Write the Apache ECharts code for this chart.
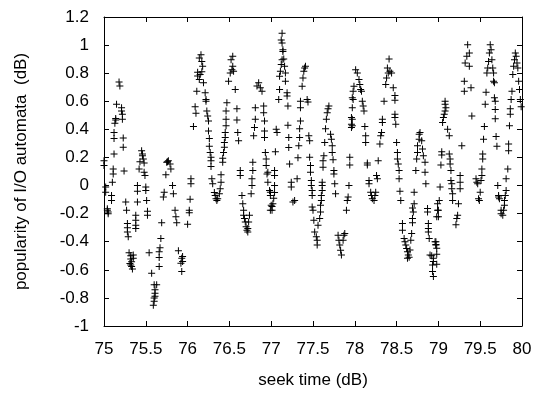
<!DOCTYPE html>
<html>
<head>
<meta charset="utf-8">
<script src="https://cdn.jsdelivr.net/npm/echarts@6/dist/echarts.min.js"></script>
<style>html,body{margin:0;padding:0;background:#fff}#c{width:538px;height:394px}</style>
</head>
<body>
<div id="c"></div>
<script>
var xTitle = 'seek time (dB)';
var yTitle = 'popularity of I/O automata  (dB)';
var xTicks = [75, 75.5, 76, 76.5, 77, 77.5, 78, 78.5, 79, 79.5, 80];
var yTicks = [-1, -0.8, -0.6, -0.4, -0.2, 0, 0.2, 0.4, 0.6, 0.8, 1, 1.2];

var seg75 = [
[75.00,0.177],[75.00,0.142],[75.02,-0.011],[75.02,-0.047],[75.04,-0.165],[75.04,-0.176],[75.05,-0.188],[75.05,-0.200],
[75.09,-0.070],[75.09,-0.106],[75.10,0.024],[75.11,0.118],[75.11,0.083],[75.12,0.224],[75.12,0.378],[75.12,0.335],
[75.13,0.444],[75.14,0.477],[75.14,0.467],[75.15,0.578],[75.18,0.738],[75.19,0.708],[75.21,0.554],[75.21,0.531],
[75.22,0.507],[75.22,0.472],[75.23,0.338],[75.23,0.272],[75.24,0.104],[75.26,-0.117],[75.27,-0.176],
[75.28,-0.271],[75.28,-0.301],[75.28,-0.330],[75.29,-0.365],[75.30,-0.478],[75.32,-0.499],[75.32,-0.523],
[75.33,-0.542],[75.33,-0.577],[75.34,-0.594],[75.35,-0.494],[75.35,-0.518],[75.31,-0.555],[75.32,-0.565],
[75.38,-0.212],[75.38,-0.247],[75.38,-0.282],[75.38,-0.306],[75.40,0.000],[75.40,-0.040],[75.40,-0.117],
[75.42,0.118],[75.45,0.248],[75.46,0.224],[75.46,0.213],[75.47,0.189],[75.43,0.170],[75.48,0.161],
[75.48,0.095],[75.49,0.071],[75.50,-0.011],[75.50,-0.035],[75.51,-0.106],[75.52,-0.183],[75.52,-0.212],
[75.54,-0.478],[75.57,-0.624],[75.60,-0.707],[75.61,-0.742],[75.61,-0.766],[75.61,-0.789],[75.60,-0.824],
[75.59,-0.853],[75.63,-0.707],[75.60,-0.800],[75.69,-0.264],[75.68,-0.377],[75.67,-0.443],[75.66,-0.471],
[75.66,-0.513],[75.66,-0.577],[75.71,-0.082],[75.72,-0.047],[75.74,0.076],[75.75,0.166],[75.77,0.177],
[75.79,0.154],[75.80,0.118],[75.76,0.170],[75.82,0.000],[75.83,-0.058],[75.85,-0.176],[75.86,-0.223],
[75.87,-0.264],[75.89,-0.464],[75.92,-0.553],[75.93,-0.518],[75.94,-0.506],[75.93,-0.612],[75.94,-0.540]
];
var seg76 = [
[76.04,0.048],[76.04,0.012],[76.03,-0.098],[76.02,-0.176],[76.02,-0.193],[76.00,-0.275],
[76.07,0.420],[76.09,0.561],[76.10,0.514],[76.11,0.672],[76.12,0.780],[76.14,0.755],[76.12,0.807],
[76.14,0.908],[76.16,0.931],[76.17,0.884],[76.18,0.849],[76.15,0.790],[76.17,0.810],[76.19,0.731],
[76.21,0.660],[76.22,0.613],[76.22,0.600],[76.23,0.530],[76.24,0.495],[76.25,0.460],[76.25,0.389],
[76.26,0.335],[76.26,0.279],[76.27,0.236],[76.28,0.201],[76.28,0.177],[76.28,0.135],[76.29,0.048],
[76.30,0.012],[76.32,-0.050],[76.33,-0.070],[76.34,-0.094],[76.35,-0.106],[76.36,-0.094],[76.38,-0.058],
[76.39,-0.023],[76.40,0.024],[76.40,0.076],[76.42,0.166],[76.42,0.194],[76.43,0.236],[76.44,0.272],
[76.44,0.307],[76.45,0.342],[76.45,0.378],[76.46,0.425],[76.46,0.472],[76.46,0.531],[76.47,0.590],
[76.49,0.743],[76.51,0.802],[76.53,0.825],[76.54,0.849],[76.55,0.814],[76.52,0.896],[76.54,0.920],
[76.57,0.684],[76.59,0.547],[76.59,0.467],[76.60,0.378],[76.61,0.319],[76.63,0.107],[76.63,0.071],
[76.65,-0.070],[76.66,-0.129],[76.67,-0.176],[76.67,-0.212],[76.68,-0.235],[76.69,-0.259],[76.70,-0.294],
[76.71,-0.318],[76.72,-0.330],[76.72,-0.306],[76.73,-0.259],[76.74,-0.212],[76.76,-0.058],[76.77,0.000],
[76.77,0.048],[76.78,0.107],[76.78,0.166],[76.79,0.354],[76.80,0.413],[76.81,0.472],[76.81,0.554],
[76.83,0.708],[76.85,0.731],[76.87,0.696],[76.89,0.672],[76.91,0.566],[76.91,0.519],[76.92,0.460],
[76.92,0.389],[76.92,0.342],[76.93,0.236],[76.94,0.189],[76.94,0.142],[76.95,0.083],[76.96,0.024],
[76.98,-0.035],[76.99,-0.176]
];
var seg77 = [
[76.96,0.095],[76.99,-0.047],[76.99,-0.070],[77.00,-0.141],[77.01,-0.176],[77.04,0.107],[77.04,0.071],
[77.04,0.000],[77.04,-0.050],[77.03,-0.090],[77.02,-0.130],[77.01,-0.150],[77.06,0.401],[77.07,0.378],
[77.05,0.241],[77.09,0.613],[77.10,0.684],[77.10,0.778],[77.11,0.814],[77.12,0.861],[77.13,0.896],
[77.14,0.955],[77.13,1.014],[77.12,1.037],[77.13,1.085],[77.14,0.967],[77.15,0.901],[77.16,0.849],
[77.17,0.802],[77.17,0.743],[77.19,0.660],[77.19,0.637],[77.20,0.566],[77.20,0.429],[77.21,0.342],
[77.21,0.271],[77.22,0.154],[77.24,0.024],[77.24,-0.011],[77.26,-0.117],[77.28,-0.106],[77.31,0.048],
[77.32,0.198],[77.33,0.283],[77.34,0.342],[77.34,0.405],[77.35,0.460],[77.35,0.601],[77.35,0.554],
[77.37,0.707],[77.38,0.766],[77.39,0.814],[77.40,0.837],[77.41,0.849],[77.43,0.613],[77.44,0.594],
[77.45,0.354],[77.46,0.319],[77.46,0.201],[77.47,0.142],[77.47,0.095],[77.48,0.036],[77.48,0.000],
[77.49,-0.035],[77.49,-0.070],[77.49,-0.153],[77.50,-0.176],[77.51,-0.247],[77.52,-0.330],[77.54,-0.365],
[77.55,-0.389],[77.55,-0.424],[77.56,-0.282],[77.58,-0.235],[77.59,-0.188],[77.59,-0.141],[77.60,-0.106],
[77.60,-0.070],[77.61,-0.035],[77.61,0.000],[77.61,0.024],[77.62,0.130],[77.62,0.177],[77.63,0.213],
[77.65,0.405],[77.66,0.472],[77.67,0.519],[77.68,0.547],[77.69,0.566],[77.64,0.307],[77.71,0.366],
[77.72,0.330],[77.73,0.283],[77.73,0.236],[77.74,0.184],[77.75,0.107],[77.75,0.083],[77.76,0.012],
[77.77,-0.058],[77.80,-0.353],[77.81,-0.389],[77.82,-0.424],[77.83,-0.460],[77.84,-0.495],[77.86,-0.389],
[77.87,-0.353],[77.88,-0.341],[77.90,-0.176],[77.91,-0.106],[77.92,-0.082],[77.93,0.000],[77.94,0.146],
[77.94,0.201],[77.96,0.413],[77.96,0.436],[77.96,0.484],[77.97,0.554],[77.97,0.625],[77.98,0.672]
];
var seg78 = [
[77.97,0.472],[77.97,0.425],[77.98,0.613],[77.99,0.707],[78.01,0.825],[78.03,0.802],[78.05,0.755],
[78.06,0.719],[78.07,0.684],[78.08,0.672],[78.09,0.601],[78.10,0.566],[78.11,0.531],[78.12,0.420],
[78.13,0.354],[78.13,0.307],[78.15,0.161],[78.15,0.146],[78.17,0.036],[78.17,0.012],[78.19,-0.047],
[78.20,-0.070],[78.21,-0.094],[78.23,-0.106],[78.24,-0.070],[78.25,-0.047],[78.26,0.071],[78.27,0.048],
[78.28,0.177],[78.30,0.295],[78.31,0.354],[78.32,0.378],[78.33,0.448],[78.33,0.472],[78.35,0.601],
[78.37,0.719],[78.38,0.766],[78.39,0.837],[78.40,0.802],[78.41,0.901],[78.42,0.814],[78.44,0.802],
[78.46,0.696],[78.48,0.641],[78.48,0.608],[78.48,0.507],[78.48,0.484],[78.49,0.436],[78.50,0.307],
[78.51,0.236],[78.51,0.189],[78.52,0.154],[78.53,0.107],[78.53,0.048],[78.54,-0.040],[78.55,-0.106],
[78.57,-0.271],[78.57,-0.318],[78.59,-0.377],[78.60,-0.400],[78.61,-0.424],[78.62,-0.448],[78.63,-0.471],
[78.64,-0.494],[78.65,-0.510],[78.63,-0.518],[78.66,-0.459],[78.67,-0.389],[78.68,-0.341],[78.69,-0.264],
[78.69,-0.235],[78.70,-0.188],[78.69,-0.160],[78.71,-0.129],[78.71,-0.047],[78.73,0.107],[78.74,0.189],
[78.75,0.236],[78.75,0.283],[78.77,0.330],[78.77,0.366],[78.78,0.378],[78.80,0.319],[78.81,0.260],
[78.82,0.213],[78.84,0.166],[78.84,0.095],[78.85,0.012],[78.87,-0.164],[78.87,-0.188],[78.88,-0.271],
[78.88,-0.306],[78.88,-0.330],[78.89,-0.377],[78.90,-0.494],[78.92,-0.500],[78.94,-0.518],[78.93,-0.565],
[78.93,-0.612],[78.94,-0.648],[78.94,-0.540],[78.96,-0.400],[78.97,-0.424],[78.98,-0.447],[78.98,-0.223],
[78.99,-0.176],[78.99,-0.129]
];
var seg79 = [
[78.97,-0.400],[78.97,-0.420],[78.98,-0.490],[78.98,-0.560],[79.00,-0.223],[79.00,-0.176],[79.01,-0.106],
[79.02,-0.011],[79.03,0.146],[79.04,0.217],[79.04,0.241],[79.05,0.448],[79.06,0.484],[79.07,0.507],
[79.08,0.531],[79.09,0.554],[79.08,0.578],[79.08,0.601],[79.11,0.401],[79.13,0.354],[79.13,0.224],
[79.14,0.189],[79.14,0.154],[79.15,0.107],[79.15,0.036],[79.16,0.012],[79.16,-0.023],[79.17,-0.058],
[79.17,-0.106],[79.21,-0.280],[79.22,-0.235],[79.23,-0.212],[79.24,-0.129],[79.26,-0.023],[79.26,0.024],
[79.26,0.071],[79.28,0.283],[79.31,0.672],[79.31,0.743],[79.32,0.872],[79.34,0.920],[79.35,1.002],
[79.37,0.943],[79.37,0.849],[79.39,0.696],[79.40,0.495],[79.45,0.048],[79.46,0.024],[79.47,0.012],
[79.48,-0.094],[79.49,-0.106],[79.50,-0.047],[79.51,0.036],[79.52,0.071],[79.52,0.118],[79.53,0.189],
[79.53,0.224],[79.54,0.330],[79.55,0.420],[79.56,0.578],[79.57,0.665],[79.58,0.802],[79.59,0.837],
[79.60,0.884],[79.61,0.943],[79.62,1.002],[79.63,0.967],[79.64,0.896],[79.65,0.837],[79.66,0.802],
[79.66,0.743],[79.67,0.731],[79.67,0.625],[79.68,0.601],[79.68,0.542],[79.68,0.476],[79.69,0.349],
[79.70,0.279],[79.71,0.000],[79.72,-0.070],[79.72,-0.082],[79.73,-0.094],[79.75,-0.176],[79.75,-0.200],
[79.77,-0.212],[79.78,-0.176],[79.79,-0.141],[79.79,-0.106],[79.80,-0.070],[79.81,-0.035],[79.81,0.048],
[79.83,0.118],[79.84,0.248],[79.84,0.295],[79.85,0.425],[79.86,0.507],[79.86,0.547],[79.87,0.613],
[79.88,0.672],[79.89,0.790],[79.90,0.849],[79.91,0.896],[79.92,0.943],[79.93,0.920],[79.94,0.872],
[79.95,0.837],[79.96,0.743],[79.97,0.684],[79.98,0.613],[79.99,0.561]
];

var allPoints = seg75.concat(seg76, seg77, seg78, seg79);

var plus = 'path://M3,0h1v3h3v1h-3v3h-1v-3h-3v-1h3z';
var font = 'Liberation Sans, Arial, Helvetica, sans-serif';
function fmt(v){ var r = Math.round(v*10)/10; return String(r); }

var chart = echarts.init(document.getElementById('c'), null, {renderer:'canvas'});
var axisCommon = {
  axisLine:{show:true, onZero:false, lineStyle:{color:'#000', width:1}},
  axisTick:{show:true, inside:true, length:5, lineStyle:{color:'#000', width:1}},
  splitLine:{show:false}
};
chart.setOption({
  animation:false,
  backgroundColor:'#fff',
  grid:{left:104, right:16, top:17, bottom:65, containLabel:false},
  xAxis:[
    Object.assign({type:'value', min:xTicks[0], max:xTicks[xTicks.length-1], interval:0.5, position:'bottom',
      name:xTitle, nameLocation:'middle', nameGap:46,
      nameTextStyle:{fontFamily:font, fontSize:17, color:'#000'},
      axisLabel:{fontFamily:font, fontSize:17, color:'#000', margin:15, formatter:fmt, showMaxLabel:true, showMinLabel:true}
    }, axisCommon),
    Object.assign({type:'value', min:xTicks[0], max:xTicks[xTicks.length-1], interval:0.5, position:'top',
      axisLabel:{show:false}}, axisCommon)
  ],
  yAxis:[
    Object.assign({type:'value', min:yTicks[0], max:yTicks[yTicks.length-1], interval:0.2, position:'left',
      name:yTitle, nameLocation:'middle', nameGap:74, nameRotate:90,
      nameTextStyle:{fontFamily:font, fontSize:17, color:'#000'},
      axisLabel:{fontFamily:font, fontSize:17, color:'#000', margin:15, formatter:fmt}
    }, axisCommon),
    Object.assign({type:'value', min:yTicks[0], max:yTicks[yTicks.length-1], interval:0.2, position:'right',
      axisLabel:{show:false}}, axisCommon)
  ],
  series:[{
    type:'scatter',
    xAxisIndex:0, yAxisIndex:0,
    data:allPoints,
    symbol:plus,
    symbolSize:7,
    itemStyle:{color:'#000', opacity:1},
    silent:true
  }]
});
</script>
</body>
</html>
